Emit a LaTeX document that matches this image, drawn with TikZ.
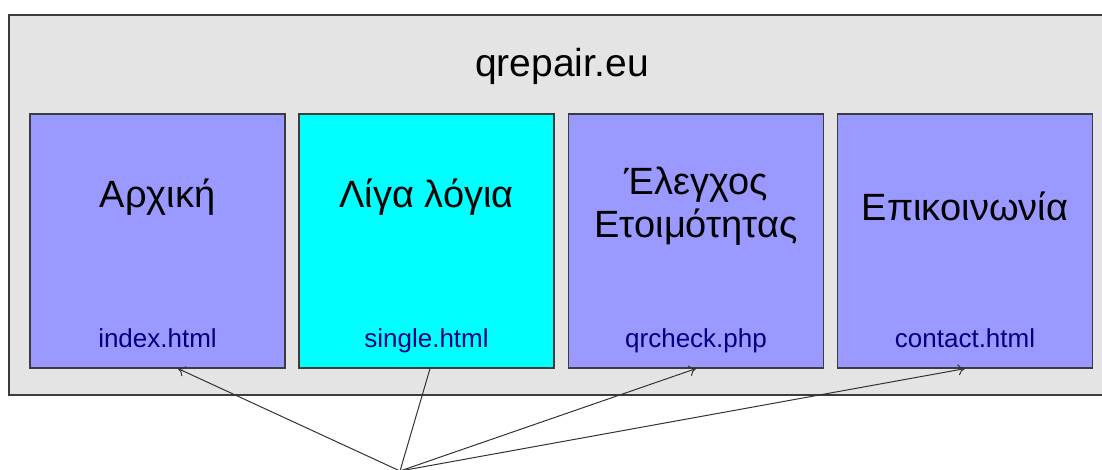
\documentclass[tikz,border=0pt]{standalone}
\usepackage{fontspec}
\setmainfont{Liberation Sans}
\usetikzlibrary{positioning,arrows.meta}
\definecolor{sitegray}{RGB}{228,228,228}
\definecolor{boxblue}{RGB}{153,153,255}
\definecolor{boxcyan}{RGB}{0,255,255}
\definecolor{edgegray}{RGB}{60,60,60}
\definecolor{filenavy}{RGB}{0,0,128}
\tikzset{
  pagebox/.style={draw=edgegray, line width=1.2pt, fill=boxblue,
    minimum width=255pt, minimum height=254pt, inner sep=0pt},
  sitename/.style={anchor=base, font=\fontsize{39}{44}\selectfont},
  heading/.style={anchor=base, align=center, font=\fontsize{38}{43}\selectfont},
  filename/.style={anchor=base, text=filenavy, font=\fontsize{26}{30}\selectfont},
  link/.style={->, >={To[length=7pt,width=11pt]}, line width=1pt, black!80}
}
\begin{document}
\begin{tikzpicture}[x=1pt, y=-1pt]
  \clip (0,0) rectangle (1102,470);
  \draw[edgegray, line width=1.6pt, fill=sitegray] (9,15) rectangle (1120,395); % site frame
  \node[sitename] (site) at (562,77) {qrepair.eu};
  % pages
  \node[pagebox] (index) at (157.5,241) {};
  \node[pagebox, fill=boxcyan] (single) at (426.5,241) {};
  \node[pagebox] (qrcheck) at (696,241) {};
  \node[pagebox] (contact) at (965,241) {};
  \node[heading] (indextitle) at (157.5,208) {Αρχική};
  \node[heading] (singletitle) at (426.5,208) {Λίγα λόγια};
  \node[heading, anchor=center] (qrchecktitle) at (696,206) {Έλεγχος\\Ετοιμότητας};
  \node[heading] (contacttitle) at (965,221) {Επικοινωνία};
  \node[filename] (indexfile) at (157.5,347) {index.html};
  \node[filename] (singlefile) at (426.5,347) {single.html};
  \node[filename] (qrcheckfile) at (696,347) {qrcheck.php};
  \node[filename] (contactfile) at (965,347) {contact.html};
  % links
  \coordinate (hub) at (400,471);
  \draw[line width=1pt, black!80] ([xshift=3.5pt]single.south) -- (hub);
  \draw[link] (hub) -- ([xshift=20.5pt]index.south);
  \draw[link] (hub) -- (qrcheck.south);
  \draw[link] (hub) -- (contact.south);
\end{tikzpicture}
\end{document}
